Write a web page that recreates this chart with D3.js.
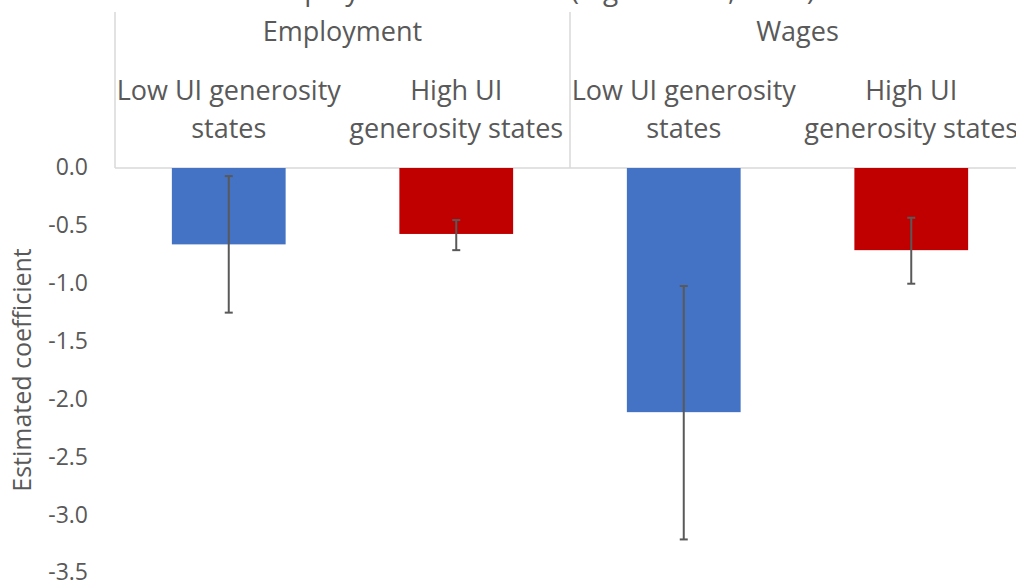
<!DOCTYPE html>
<html>
<head>
<meta charset="utf-8">
<script src="https://cdn.jsdelivr.net/npm/d3@7/dist/d3.min.js"></script>
<style>
  html, body { margin: 0; padding: 0; background: #ffffff; }
  svg { display: block; }
  text { font-family: "Open Sans", "Noto Sans", sans-serif; fill: #595959; }
</style>
</head>
<body>
<svg id="chart" width="1016" height="581"></svg>
<script>
// ---- data ----
const titleText = "Unemployment insurance (log amount, 1000)";
const groups = ["Employment", "Wages"];
const subcategories = ["Low UI generosity states", "High UI generosity states"];
const subcategoryLines = [["Low UI generosity", "states"], ["High UI", "generosity states"]];
const categories = ["Employment|Low", "Employment|High", "Wages|Low", "Wages|High"];
const values = [-0.66, -0.57, -2.11, -0.71];
const errorLower = [-1.25, -0.71, -3.21, -1.00];
const errorUpper = [-0.07, -0.45, -1.02, -0.43];
const barColors = ["#4472C4", "#C00000", "#4472C4", "#C00000"];
const yTicks = [0, -0.5, -1, -1.5, -2, -2.5, -3, -3.5];
const yLabel = "Estimated coefficient";

// ---- layout ----
(function () {
const svg = d3.select("#chart");
const plotLeft = 115, plotRight = 1025, plotTop = 168, plotBottom = 573;
const labelTop = 12;

const x = d3.scaleBand().domain(categories).range([plotLeft, plotRight])
  .paddingInner(0.5).paddingOuter(0.25);
const xGroup = d3.scaleBand().domain(groups).range([plotLeft, plotRight]);
const y = d3.scaleLinear().domain([-3.5, 0]).range([plotBottom, plotTop]);

// title (cut off at top, as in the reference)
svg.append("text")
  .attr("x", 520).attr("y", 0)
  .attr("text-anchor", "middle")
  .attr("font-size", 28)
  .text(titleText);

// category frame lines
const frame = svg.append("g").attr("stroke", "#d9d9d9").attr("stroke-width", 1.5);
frame.append("line").attr("x1", plotLeft).attr("x2", 1016).attr("y1", y(0)).attr("y2", y(0));
groups.forEach(g => {
  frame.append("line")
    .attr("x1", xGroup(g)).attr("x2", xGroup(g))
    .attr("y1", labelTop).attr("y2", y(0));
});

// group labels
svg.append("g").selectAll("text").data(groups).join("text")
  .attr("x", d => xGroup(d) + xGroup.bandwidth() / 2)
  .attr("y", 41)
  .attr("text-anchor", "middle")
  .attr("font-size", 27)
  .text(d => d);

// subcategory labels
const subG = svg.append("g");
categories.forEach((c, i) => {
  const lines = subcategoryLines[i % 2];
  const t = subG.append("text")
    .attr("x", x(c) + x.bandwidth() / 2)
    .attr("y", 100)
    .attr("text-anchor", "middle")
    .attr("font-size", 27);
  lines.forEach((ln, j) => {
    t.append("tspan").attr("x", x(c) + x.bandwidth() / 2)
      .attr("dy", j === 0 ? 0 : 38).text(ln);
  });
});

// bars
svg.append("g").selectAll("rect").data(values).join("rect")
  .attr("x", (d, i) => x(categories[i]))
  .attr("width", x.bandwidth())
  .attr("y", d => y(Math.max(0, d)))
  .attr("height", d => Math.abs(y(d) - y(0)))
  .attr("fill", (d, i) => barColors[i]);

// error bars
const eb = svg.append("g").attr("stroke", "#595959").attr("stroke-width", 2);
categories.forEach((c, i) => {
  const cx = x(c) + x.bandwidth() / 2;
  eb.append("line").attr("x1", cx).attr("x2", cx)
    .attr("y1", y(errorUpper[i])).attr("y2", y(errorLower[i]));
  [errorUpper[i], errorLower[i]].forEach(v => {
    eb.append("line").attr("x1", cx - 4).attr("x2", cx + 4)
      .attr("y1", y(v)).attr("y2", y(v));
  });
});

// y axis
const yAxis = d3.axisLeft(y).tickValues(yTicks).tickSize(0).tickPadding(0)
  .tickFormat(d => d.toFixed(1));
const ya = svg.append("g").attr("transform", "translate(88,0)").call(yAxis);
ya.select(".domain").remove();
ya.selectAll("text")
  .attr("font-size", 23)
  .attr("fill", "#595959")
  .attr("dy", "0.3em")
  .style("font-family", "'Open Sans', sans-serif");

// y label
svg.append("text")
  .attr("transform", "translate(31,370) rotate(-90)")
  .attr("text-anchor", "middle")
  .attr("font-size", 25)
  .text(yLabel);
})();
</script>
</body>
</html>
